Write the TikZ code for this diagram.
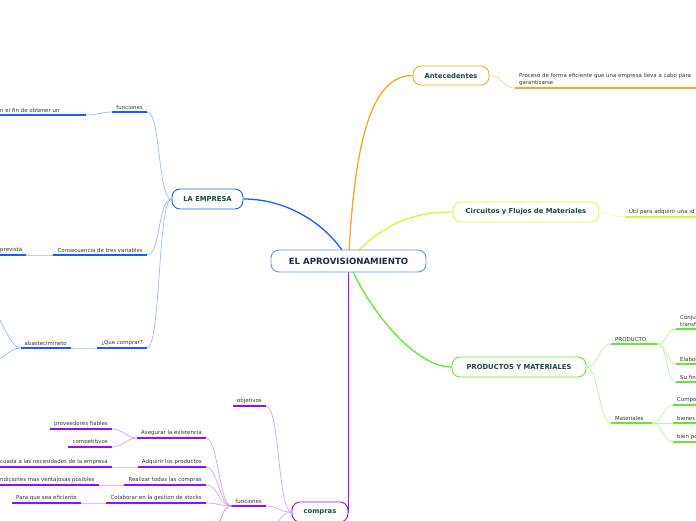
\documentclass[tikz,border=0pt]{standalone}
\usepackage{fontspec}
\setmainfont{DejaVu Sans}
\usepackage{tikz}
\usetikzlibrary{
  arrows.meta,
  backgrounds
}
\definecolor{apCentre}{HTML}{5B9BD5}
\definecolor{apTitle}{HTML}{1E2C4F}
\definecolor{apMain}{HTML}{1C4A3B}
\definecolor{apText}{HTML}{333333}
\definecolor{apBlue}{HTML}{1A5CFF}
\definecolor{apBlueL}{HTML}{9DB8FF}
\definecolor{apOrange}{HTML}{F7A823}
\definecolor{apOrangeL}{HTML}{FAD08A}
\definecolor{apLime}{HTML}{D9F53B}
\definecolor{apLimeL}{HTML}{EDF9A0}
\definecolor{apGreen}{HTML}{5FEA2C}
\definecolor{apGreenL}{HTML}{B3F59A}
\definecolor{apPurple}{HTML}{9B0BF5}
\definecolor{apPurpleL}{HTML}{D3A3FA}
\tikzset{
  apnode/.style={
    draw, rounded corners=8pt, fill=white, line width=0.9pt, align=center,
    text=apMain, font=\fontsize{6.8}{8}\selectfont\bfseries, inner sep=0pt
  },
  aptitle/.style={apnode, draw=apCentre, text=apTitle,
    font=\fontsize{8.6}{10}\selectfont\bfseries, minimum width=155pt, minimum height=22pt},
  leaf/.style={font=\fontsize{5.45}{7}\selectfont, text=apText, inner xsep=4pt, inner ysep=2pt},
  empmain/.style={line width=1.3pt, apBlue},
  empul/.style={line width=1.5pt, apBlue},
  emplink/.style={line width=0.7pt, apBlueL},
  antemain/.style={line width=1.3pt, apOrange},
  anteul/.style={line width=1.5pt, apOrange},
  antelink/.style={line width=0.7pt, apOrangeL},
  circmain/.style={line width=1.3pt, apLime},
  circul/.style={line width=1.5pt, apLime},
  circlink/.style={line width=0.7pt, apLimeL},
  prodmain/.style={line width=1.3pt, apGreen},
  produl/.style={line width=1.5pt, apGreen},
  prodlink/.style={line width=0.7pt, apGreenL},
  compmain/.style={line width=1.3pt, apPurple},
  compul/.style={line width=1.5pt, apPurple},
  complink/.style={line width=0.7pt, apPurpleL}
}
\begin{document}
\begin{tikzpicture}[x=1pt, y=-1pt]
  \clip (0,0) rectangle (696,520);
  % main topics
  \node[aptitle] (root) at (348.5,261) {EL APROVISIONAMIENTO};
  \node[apnode, draw=apOrange, minimum width=76pt, minimum height=19pt] (ante) at (451,75.5) {Antecedentes};
  \node[apnode, draw=apLime, minimum width=146pt, minimum height=20pt] (circ) at (526,212) {Circuitos y Flujos de Materiales};
  \node[apnode, draw=apGreen, minimum width=134pt, minimum height=20pt] (prod) at (519,367) {PRODUCTOS Y MATERIALES};
  \node[apnode, draw=apBlue, minimum width=71pt, minimum height=20pt] (emp) at (207.5,199) {LA EMPRESA};
  \node[apnode, draw=apPurple, minimum width=56pt, minimum height=20pt] (comp) at (320,512) {compras};

  % LA EMPRESA
  \node[leaf, anchor=south east] (empfun) at (147,112) {funciones};
  \node[leaf, anchor=south west, text width=82pt, align=left] (empfin) at (-4,115) {n el fin de obtener un};
  \node[leaf, anchor=south east] (empcons) at (147,255) {Consecuencia de tres variables};
  \node[leaf, anchor=south west] (empprev) at (-4,255) {prevista};
  \node[leaf, anchor=south east] (empqc) at (147,348) {¿Que comprar?};
  \node[leaf, anchor=south east] (empabas) at (71,348) {abastecimineto};
  \coordinate (abasup) at (-10,312);
  \coordinate (abasdn) at (-10,362);

  % Antecedentes, Circuitos
  \node[leaf, anchor=south west, text width=180pt, align=left] (anteproc) at (515,88) {Proceso de forma eficiente que una empresa lleva a cabo para\\garantizarse};
  \node[leaf, anchor=south west, text width=80pt, align=left] (circutil) at (625,217) {Útil para adquirir una id};

  % PRODUCTOS Y MATERIALES
  \node[leaf, anchor=south west, text width=38pt, align=left] (prodprod) at (611,344) {PRODUCTO};
  \node[leaf, anchor=south west, text width=33pt, align=left] (prodmat) at (611,423) {Materiales};
  \node[leaf, anchor=south west, text width=30pt, align=left] (prodconj) at (676,329) {Conju\\transf};
  \node[leaf, anchor=south west, text width=30pt, align=left] (prodelab) at (676,364) {Elabor};
  \node[leaf, anchor=south west, text width=30pt, align=left] (prodfin) at (676,382) {Su fin};
  \node[leaf, anchor=south west, text width=30pt, align=left] (matcomp) at (673,405) {Compo};
  \node[leaf, anchor=south west, text width=30pt, align=left] (matbien) at (673,423) {bienes};
  \node[leaf, anchor=south west, text width=30pt, align=left] (matbpo) at (673,442) {bien po};

  % compras
  \node[leaf, anchor=south east] (compobj) at (266,406) {objetivos};
  \node[leaf, anchor=south east] (compfun) at (266,506) {funciones};
  \coordinate (compmore) at (262,536);
  \node[leaf, anchor=south east] (funase) at (206,438) {Asegurar la existencia};
  \node[leaf, anchor=south east] (funadq) at (206,467) {Adquirir los productos};
  \node[leaf, anchor=south east] (funrea) at (206,485) {Realizar todas las compras};
  \node[leaf, anchor=south east] (funcol) at (206,503) {Colaborar en la gestion de stocks};
  \coordinate (funmore1) at (212,528);
  \coordinate (funmore2) at (204,546);
  \node[leaf, anchor=south east] (aseprov) at (112,429) {proveedores fiables};
  \node[leaf, anchor=south east] (asecomp) at (112,447) {competitivos};
  \node[leaf, anchor=south west] (adqnec) at (-4,467) {cuada a las necesidades de la empresa};
  \node[leaf, anchor=south west] (reacond) at (-4,485) {ndiciones mas ventajosas posibles};
  \node[leaf, anchor=south east] (colefi) at (81,503) {Para que sea eficiente};

  % main branches
  \begin{scope}[on background layer]
    \draw[empmain] (root.center) .. controls +(-15,-30) and +(50,0) .. (emp.east);
    \draw[antemain] (root.center) .. controls +(6,-121) and +(-41,0) .. (ante.west);
    \draw[circmain] (root.center) .. controls +(35,-40) and +(-35,0) .. (circ.west);
    \draw[prodmain] (root.center) .. controls +(15,40) and +(-40,0) .. (prod.west);
    \draw[compmain] (root.center) -- (root.center |- comp.east) -- (comp.east);
  \end{scope}

  % underlines
  \foreach \n in {empfun,empfin,empcons,empprev,empqc,empabas}
    \draw[empul] (\n.south west) -- (\n.south east);
  \draw[anteul] (anteproc.south west) -- (anteproc.south east);
  \draw[circul] (circutil.south west) -- (circutil.south east);
  \foreach \n in {prodprod,prodmat,prodconj,prodelab,prodfin,matcomp,matbien,matbpo}
    \draw[produl] (\n.south west) -- (\n.south east);
  \foreach \n in {compobj,compfun,funase,funadq,funrea,funcol,aseprov,asecomp,adqnec,reacond,colefi}
    \draw[compul] (\n.south west) -- (\n.south east);

  % links
  \foreach \c in {empfun,empcons,empqc}
    \draw[emplink] (emp.west) .. controls +(-14,0) and +(14,0) .. (\c.south east);
  \foreach \p/\c in {empfun/empfin, empcons/empprev, empqc/empabas}
    \draw[emplink] (\p.south west) .. controls +(-10,0) and +(10,0) .. (\c.south east);
  \foreach \c in {abasup,abasdn}
    \draw[emplink] (empabas.south west) .. controls +(-12,0) and +(12,0) .. (\c);

  \draw[antelink] (ante.east) .. controls +(13,0) and +(-13,0) .. (anteproc.south west);
  \draw[circlink] (circ.east) .. controls +(13,0) and +(-13,0) .. (circutil.south west);

  \foreach \c in {prodprod,prodmat}
    \draw[prodlink] (prod.east) .. controls +(12,0) and +(-12,0) .. (\c.south west);
  \foreach \c in {prodconj,prodelab,prodfin}
    \draw[prodlink] (prodprod.south east) .. controls +(10,0) and +(-10,0) .. (\c.south west);
  \foreach \c in {matcomp,matbien,matbpo}
    \draw[prodlink] (prodmat.south east) .. controls +(10,0) and +(-10,0) .. (\c.south west);

  \foreach \c in {compobj,compfun}
    \draw[complink] (comp.west) .. controls +(-14,0) and +(14,0) .. (\c.south east);
  \draw[complink] (comp.west) .. controls +(-14,0) and +(14,0) .. (compmore);
  \foreach \c in {funase,funadq,funrea,funcol}
    \draw[complink] (compfun.south west) .. controls +(-12,0) and +(12,0) .. (\c.south east);
  \foreach \c in {funmore1,funmore2}
    \draw[complink] (compfun.south west) .. controls +(-12,0) and +(12,0) .. (\c);
  \foreach \c in {aseprov,asecomp}
    \draw[complink] (funase.south west) .. controls +(-10,0) and +(10,0) .. (\c.south east);
  \foreach \p/\c in {funadq/adqnec, funrea/reacond, funcol/colefi}
    \draw[complink] (\p.south west) .. controls +(-10,0) and +(10,0) .. (\c.south east);
\end{tikzpicture}
\end{document}
